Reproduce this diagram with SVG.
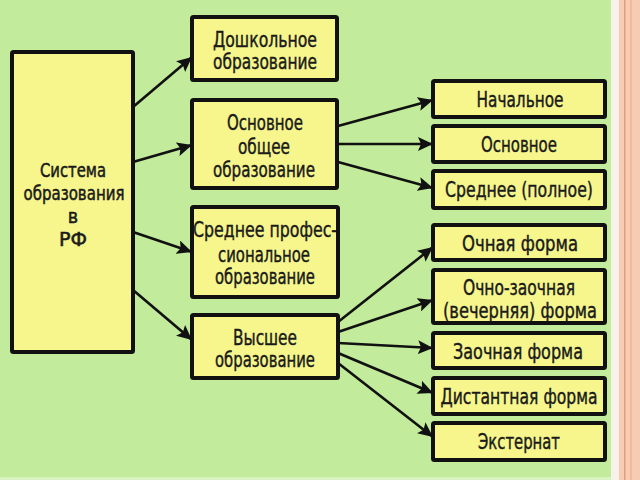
<svg xmlns="http://www.w3.org/2000/svg" width="640" height="480" viewBox="0 0 640 480">
<defs>
<style>
.box{fill:#f6f68c;stroke:#111;stroke-width:4;}
.t{font-family:"DejaVu Sans Condensed","DejaVu Sans","Liberation Sans",sans-serif;font-size:21px;fill:#1a1a1a;text-anchor:middle;stroke:#1a1a1a;stroke-width:0.4;}
.big{font-size:19.5px;stroke-width:0.5;}
.c{stroke:#111;stroke-width:2.6;fill:none;marker-end:url(#ah);}
</style>
<marker id="ah" markerUnits="userSpaceOnUse" markerWidth="16" markerHeight="14" refX="15" refY="7" orient="auto">
<path d="M0,0 L15,7 L0,14 L3,7 z" fill="#111"/>
</marker>
</defs>
<rect x="0" y="0" width="640" height="480" fill="#c2eb9b"/>
<rect x="611" y="0" width="29" height="480" fill="#fbf1ec"/>
<rect x="612" y="0" width="2" height="480" fill="#eef6e6"/>
<rect x="619" y="0" width="21" height="480" fill="#f8cbb3"/>
<rect x="624" y="0" width="1.5" height="480" fill="#dca080"/>
<rect x="630" y="0" width="2" height="480" fill="#f3b99c"/>
<rect x="0" y="477" width="611" height="3" fill="#d8f2c0"/>

<g id="connectors">
<line class="c" x1="133" y1="107" x2="192" y2="57"/>
<line class="c" x1="133" y1="162" x2="192" y2="145"/>
<line class="c" x1="133" y1="232" x2="192" y2="252"/>
<line class="c" x1="133" y1="290" x2="192" y2="340"/>
<line class="c" x1="338" y1="126" x2="433" y2="100"/>
<line class="c" x1="338" y1="144" x2="433" y2="144"/>
<line class="c" x1="338" y1="162" x2="433" y2="188"/>
<line class="c" x1="338" y1="322" x2="433" y2="247"/>
<line class="c" x1="338" y1="332" x2="433" y2="300"/>
<line class="c" x1="338" y1="343" x2="433" y2="348"/>
<line class="c" x1="338" y1="353" x2="433" y2="393"/>
<line class="c" x1="338" y1="363" x2="433" y2="437"/>
</g>

<g id="n-system">
<rect class="box" x="12" y="52" width="121" height="300" rx="1.5"/>
<text class="t big" x="73" y="177" textLength="66" lengthAdjust="spacingAndGlyphs">Система</text>
<text class="t big" x="74" y="200" textLength="101" lengthAdjust="spacingAndGlyphs">образования</text>
<text class="t big" x="73" y="223">в</text>
<text class="t big" x="73" y="246" textLength="28" lengthAdjust="spacingAndGlyphs">РФ</text>
</g>

<g id="n-preschool">
<rect class="box" x="192" y="17" width="145" height="63" rx="1.5"/>
<text class="t" x="265" y="47" textLength="104" lengthAdjust="spacingAndGlyphs">Дошкольное</text>
<text class="t" x="265" y="69" textLength="104" lengthAdjust="spacingAndGlyphs">образование</text>
</g>

<g id="n-general">
<rect class="box" x="192" y="100" width="145" height="88" rx="1.5"/>
<text class="t" x="265" y="130" textLength="76" lengthAdjust="spacingAndGlyphs">Основное</text>
<text class="t" x="264" y="154" textLength="52" lengthAdjust="spacingAndGlyphs">общее</text>
<text class="t" x="264" y="177" textLength="102" lengthAdjust="spacingAndGlyphs">образование</text>
</g>

<g id="n-vocational">
<rect class="box" x="192" y="207" width="146" height="90" rx="1.5"/>
<text class="t" x="265" y="237" textLength="144" lengthAdjust="spacingAndGlyphs">Среднее профес-</text>
<text class="t" x="264" y="262" textLength="92" lengthAdjust="spacingAndGlyphs">сиональное</text>
<text class="t" x="265" y="284" textLength="100" lengthAdjust="spacingAndGlyphs">образование</text>
</g>

<g id="n-higher">
<rect class="box" x="192" y="315" width="146" height="63" rx="1.5"/>
<text class="t" x="265" y="345" textLength="64" lengthAdjust="spacingAndGlyphs">Высшее</text>
<text class="t" x="265" y="367" textLength="100" lengthAdjust="spacingAndGlyphs">образование</text>
</g>

<g id="n-primary">
<rect class="box" x="433" y="81" width="172" height="36" rx="1.5"/>
<text class="t" x="520" y="107" textLength="87" lengthAdjust="spacingAndGlyphs">Начальное</text>
</g>

<g id="n-basic">
<rect class="box" x="433" y="126" width="172" height="36" rx="1.5"/>
<text class="t" x="519" y="152" textLength="76" lengthAdjust="spacingAndGlyphs">Основное</text>
</g>

<g id="n-secondary">
<rect class="box" x="433" y="171" width="172" height="37" rx="1.5"/>
<text class="t" x="519" y="197" textLength="148" lengthAdjust="spacingAndGlyphs">Среднее (полное)</text>
</g>

<g id="n-fulltime">
<rect class="box" x="433" y="225" width="172" height="35" rx="1.5"/>
<text class="t" x="520" y="251" textLength="116" lengthAdjust="spacingAndGlyphs">Очная форма</text>
</g>

<g id="n-evening">
<rect class="box" x="433" y="270" width="172" height="53" rx="1.5"/>
<text class="t" x="519" y="295" textLength="112" lengthAdjust="spacingAndGlyphs">Очно-заочная</text>
<text class="t" x="520" y="318" textLength="154" lengthAdjust="spacingAndGlyphs">(вечерняя) форма</text>
</g>

<g id="n-extramural">
<rect class="box" x="433" y="333" width="172" height="35" rx="1.5"/>
<text class="t" x="518" y="359" textLength="130" lengthAdjust="spacingAndGlyphs">Заочная форма</text>
</g>

<g id="n-distance">
<rect class="box" x="433" y="378" width="172" height="36" rx="1.5"/>
<text class="t" x="519" y="404" textLength="157" lengthAdjust="spacingAndGlyphs">Дистантная форма</text>
</g>

<g id="n-external">
<rect class="box" x="433" y="423" width="172" height="37" rx="1.5"/>
<text class="t" x="519" y="449" textLength="82" lengthAdjust="spacingAndGlyphs">Экстернат</text>
</g>
</svg>
